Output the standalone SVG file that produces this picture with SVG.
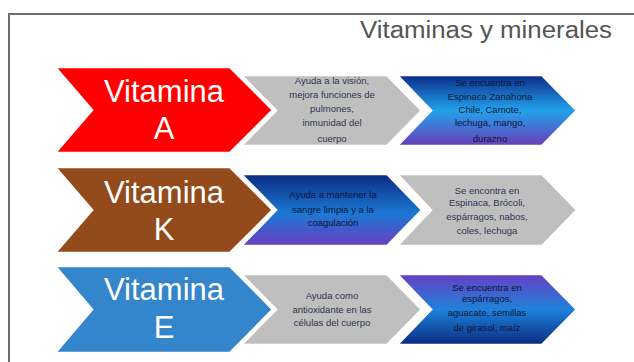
<svg xmlns="http://www.w3.org/2000/svg" width="634" height="362" viewBox="0 0 634 362">
  <defs>
    <linearGradient id="gA" x1="0" y1="0" x2="0" y2="1">
      <stop offset="0" stop-color="#0c2a88"/>
      <stop offset="0.5" stop-color="#22a2ec"/>
      <stop offset="1" stop-color="#6a3cb8"/>
    </linearGradient>
    <linearGradient id="gK" x1="0" y1="0" x2="0" y2="1">
      <stop offset="0" stop-color="#0a2a82"/>
      <stop offset="0.55" stop-color="#1b78d4"/>
      <stop offset="1" stop-color="#6c3cc0"/>
    </linearGradient>
    <linearGradient id="gE" x1="0" y1="0" x2="0" y2="1">
      <stop offset="0" stop-color="#6a3ec4"/>
      <stop offset="0.5" stop-color="#1e82da"/>
      <stop offset="1" stop-color="#0a2a80"/>
    </linearGradient>
  </defs>
  <style>
    .chev { stroke: #ffffff; stroke-width: 2.5; stroke-linejoin: miter; }
    .big { font-family: "Liberation Sans", Arial, sans-serif; font-size: 31px; fill: #ffffff; text-anchor: middle; }
    .small { font-family: "Liberation Sans", Arial, sans-serif; font-size: 9.5px; text-anchor: middle; }
    .onGray { fill: #2e3550; }
    .onBlue { fill: #0a1638; }
    .title { font-family: "Liberation Sans", Arial, sans-serif; font-size: 23px; fill: #555555; }
  </style>
  <rect width="634" height="362" fill="#ffffff"/>
  <path d="M9 370 V14 H640" fill="none" stroke="#6e6e6e" stroke-width="2"/>
  <text class="title" x="360" y="38" textLength="252" lengthAdjust="spacingAndGlyphs">Vitaminas y minerales</text>

  <g id="vitA">
    <polygon class="chev" fill="#ff0000" points="55,67 230,67 273,110 230,153 55,153 92,110"/>
    <text class="big" x="164" y="102" textLength="120" lengthAdjust="spacingAndGlyphs">Vitamina</text>
    <text class="big" x="164" y="139">A</text>
  </g>
  <g id="vitA-funcion">
    <polygon class="chev" fill="#bfbfbf" points="241,75 387,75 422,110.5 387,146 241,146 276,110.5"/>
    <text class="small onGray" x="332" y="84">Ayuda a la visión,</text>
    <text class="small onGray" x="332" y="98">mejora funciones de</text>
    <text class="small onGray" x="332" y="112">pulmones,</text>
    <text class="small onGray" x="332" y="126">inmunidad del</text>
    <text class="small onGray" x="332" y="142">cuerpo</text>
  </g>
  <g id="vitA-fuentes">
    <polygon class="chev" fill="url(#gA)" points="397,75 542,75 577,110.5 542,146 397,146 431,110.5"/>
    <text class="small onBlue" x="490" y="86">Se encuentra en</text>
    <text class="small onBlue" x="490" y="100">Espinaca Zanahoria</text>
    <text class="small onBlue" x="490" y="113">Chile, Camote,</text>
    <text class="small onBlue" x="490" y="126">lechuga, mango,</text>
    <text class="small onBlue" x="490" y="142">durazno</text>
  </g>

  <g id="vitK">
    <polygon class="chev" fill="#944b1c" points="55,167 230,167 273,210 230,253 55,253 92,210"/>
    <text class="big" x="164" y="203" textLength="120" lengthAdjust="spacingAndGlyphs">Vitamina</text>
    <text class="big" x="164" y="240">K</text>
  </g>
  <g id="vitK-funcion">
    <polygon class="chev" fill="url(#gK)" points="241,174 387,174 422,210 387,246 241,246 276,210"/>
    <text class="small onBlue" x="333" y="198">Ayuda a mantener la</text>
    <text class="small onBlue" x="333" y="213">sangre limpia y a la</text>
    <text class="small onBlue" x="333" y="226">coagulación</text>
  </g>
  <g id="vitK-fuentes">
    <polygon class="chev" fill="#bfbfbf" points="397,174 542,174 577,210 542,246 397,246 431,210"/>
    <text class="small onGray" x="487" y="194">Se encontra en</text>
    <text class="small onGray" x="487" y="206">Espinaca, Brócoli,</text>
    <text class="small onGray" x="487" y="220">espárragos, nabos,</text>
    <text class="small onGray" x="487" y="234">coles, lechuga</text>
  </g>

  <g id="vitE">
    <polygon class="chev" fill="#3385cc" points="55,266 230,266 273,309.5 230,353 55,353 92,309.5"/>
    <text class="big" x="164" y="300" textLength="120" lengthAdjust="spacingAndGlyphs">Vitamina</text>
    <text class="big" x="164" y="338">E</text>
  </g>
  <g id="vitE-funcion">
    <polygon class="chev" fill="#bfbfbf" points="241,274 387,274 422,309.5 387,345 241,345 276,309.5"/>
    <text class="small onGray" x="332" y="299">Ayuda como</text>
    <text class="small onGray" x="332" y="313">antioxidante en las</text>
    <text class="small onGray" x="332" y="326">células del cuerpo</text>
  </g>
  <g id="vitE-fuentes">
    <polygon class="chev" fill="url(#gE)" points="397,274 542,274 577,309.5 542,345 397,345 431,309.5"/>
    <text class="small onBlue" x="487" y="291">Se encuentra en</text>
    <text class="small onBlue" x="487" y="302">espárragos,</text>
    <text class="small onBlue" x="487" y="316">aguacate, semillas</text>
    <text class="small onBlue" x="487" y="331">de girasol, maíz</text>
  </g>
  <g id="connectors"></g>
</svg>
